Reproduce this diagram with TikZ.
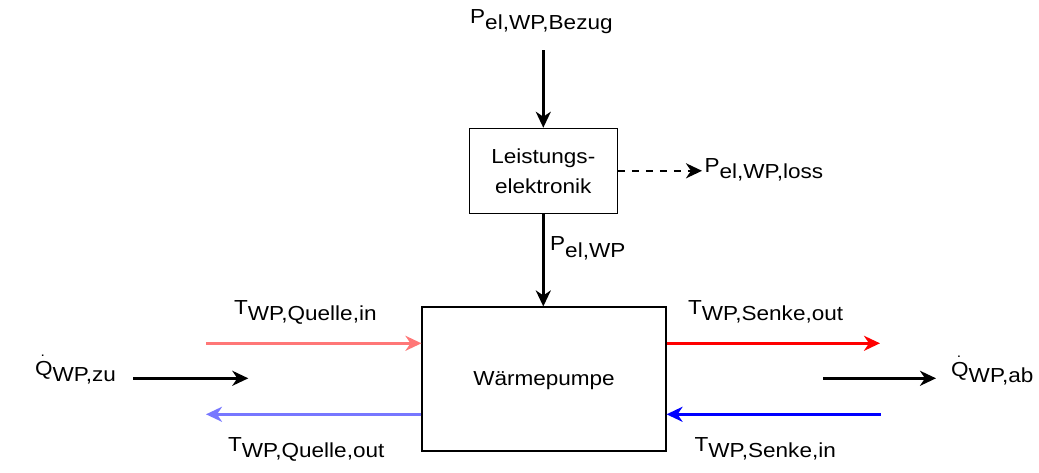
\documentclass[tikz,border=0pt]{standalone}
\usepackage{fontspec}
\setmainfont[FakeStretch=1.11]{Liberation Sans}
\usetikzlibrary{arrows.meta}
\definecolor{lred}{HTML}{FF7777}
\definecolor{lblue}{HTML}{7777FF}
\definecolor{dred}{HTML}{FF0000}
\definecolor{dblue}{HTML}{0000FF}
\newcommand\sbs[1]{\raisebox{-6.5pt}{#1}}
\newcommand\Qd{\leavevmode\rlap{\hspace{5.6pt}\raisebox{18.5pt}{\fontsize{14}{14}\selectfont.}}Q}
\begin{document}
\begin{tikzpicture}[x=1pt,y=-1pt,
  font=\fontsize{20.3}{30}\selectfont,
  box/.style={draw, line width=1.1pt, inner sep=0pt, align=center},
  lbl/.style={inner sep=0pt, anchor=base west},
  arr/.style={line width=2.6pt, -{Stealth[length=16pt,width=15pt,inset=5pt]}}]
\useasboundingbox (0,0) rectangle (1039,472);

% boxes
\node[box, minimum width=148pt, minimum height=85pt] (le) at (543.3,170.8) {Leistungs-\\elektronik};
\node[box, minimum width=244pt, minimum height=144pt, text depth=0pt] (wp) at (544,379) {Wärmepumpe};

% free ends
\coordinate (bezug) at (543.3,50);
\coordinate (loss) at (702,170.8);
\coordinate (qin) at (206,343.3);
\coordinate (qout) at (206,414.3);
\coordinate (sout) at (880,343.3);
\coordinate (sin) at (880.7,414.3);
\coordinate (zua) at (133.3,378.3);
\coordinate (zub) at (248.3,378.3);
\coordinate (aba) at (823.3,378.3);
\coordinate (abb) at (936,378.3);

% connectors
\draw[arr] (bezug) -- (le.north);
\draw[arr] (le.south) -- (le.south |- wp.north);
\draw[arr, dash pattern=on 7pt off 7pt] (le.east) -- (loss);
\draw[arr, lred] (qin) -- (wp.west |- qin);
\draw[arr, lblue] (wp.west |- qout) -- (qout);
\draw[arr, dred] (wp.east |- sout) -- (sout);
\draw[arr, dblue] (sin) -- (wp.east |- sin);
\draw[arr] (zua) -- (zub);
\draw[arr] (aba) -- (abb);

% labels
\node[lbl] (lbezug) at (470,23.3) {P\sbs{el,WP,Bezug}};
\node[lbl] (lpelwp) at (550,250.7) {P\sbs{el,WP}};
\node[lbl] (lloss) at (704.4,172.3) {P\sbs{el,WP,loss}};
\node[lbl] (lqin) at (234,314) {T\sbs{WP,Quelle,in}};
\node[lbl] (lqout) at (228,451.2) {T\sbs{WP,Quelle,out}};
\node[lbl] (lsout) at (688,314) {T\sbs{WP,Senke,out}};
\node[lbl] (lsin) at (694.5,451.2) {T\sbs{WP,Senke,in}};
\node[lbl] (lzu) at (34.8,375) {\Qd\sbs{WP,zu}};
\node[lbl] (lab) at (951,376) {\Qd\sbs{WP,ab}};
\end{tikzpicture}
\end{document}
